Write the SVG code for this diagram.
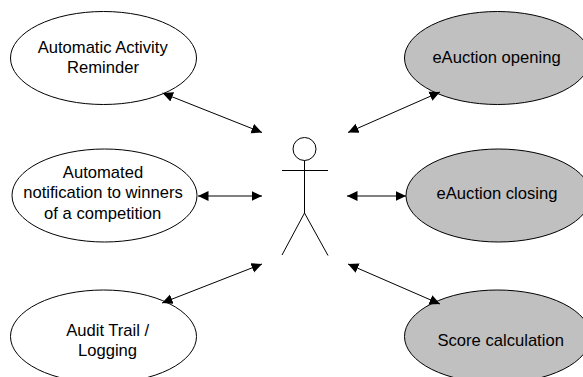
<svg xmlns="http://www.w3.org/2000/svg" width="583" height="377" viewBox="0 0 583 377">
<style>
.uc{stroke:#000;stroke-width:1;fill:#fff}
.g{fill:#c0c0c0}
text{font-family:"Liberation Sans",Arial,sans-serif;font-size:16.600px;fill:#000;text-anchor:middle}
.c{stroke:#000;stroke-width:1;fill:none;marker-start:url(#a);marker-end:url(#a)}
.a{stroke:#000;stroke-width:1;fill:none}
</style>
<defs><marker id="a" markerUnits="userSpaceOnUse" markerWidth="12" markerHeight="11" refX="10.500" refY="5.500" orient="auto-start-reverse"><path d="M0 0.500L10.500 5.500L0 10.500Z" fill="#000"/></marker></defs>
<rect width="583" height="377" fill="#fff"/>
<g id="reminder"><ellipse class="uc" cx="103.500" cy="58" rx="93" ry="46.500"/><text x="102.700" y="53">Automatic Activity</text><text x="103" y="73">Reminder</text></g>
<g id="notification"><ellipse class="uc" cx="104.500" cy="195.500" rx="92.500" ry="46.500"/><text x="103" y="178">Automated</text><text x="103" y="198">notification to winners</text><text x="102.700" y="219">of a competition</text></g>
<g id="audit"><ellipse class="uc" cx="103.500" cy="336.500" rx="93" ry="46.500"/><text x="107.700" y="336">Audit Trail /</text><text x="107.500" y="356">Logging</text></g>
<g id="opening"><ellipse class="uc g" cx="497.500" cy="58" rx="93" ry="46.500"/><text x="496.500" y="63">eAuction opening</text></g>
<g id="closing"><ellipse class="uc g" cx="498.500" cy="195.500" rx="92.500" ry="46.500"/><text x="497" y="199">eAuction closing</text></g>
<g id="score"><ellipse class="uc g" cx="497.500" cy="336.500" rx="93" ry="46.500"/><text x="500.700" y="346">Score calculation</text></g>
<g id="actor"><circle class="a" cx="304.500" cy="149" r="11.500"/><path class="a" d="M304.500 160.500V213M282 170.500H328M304.500 213L282 255M304.500 213L328 255.500"/></g>
<g id="connectors">
<path class="c" d="M162.500 93L262 132.500"/>
<path class="c" d="M198 196H262"/>
<path class="c" d="M162 303L262 264"/>
<path class="c" d="M348 132.500L440 92"/>
<path class="c" d="M347 196H406"/>
<path class="c" d="M348 264L440 304"/>
</g>
</svg>
